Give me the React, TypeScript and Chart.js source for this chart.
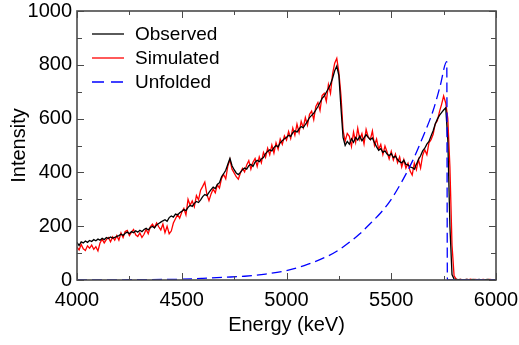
import { useEffect, useRef } from "react";
import { Chart, registerables } from "chart.js";

Chart.register(...registerables);

// Energy axis of the observed / simulated spectra (keV)
const ENERGY_START = 4000;
const ENERGY_STEP = 10;

const observed = [
  140, 128, 142, 138, 145, 140, 147, 143, 150, 146,
  152, 148, 155, 150, 158, 154, 160, 156, 158, 162,
  165, 170, 166, 174, 178, 172, 180, 176, 183, 178,
  185, 180, 188, 192, 186, 195, 199, 194, 205, 210,
  215, 220, 224, 218, 232, 238, 234, 245, 242, 250,
  255, 262, 258, 270, 278, 274, 285, 292, 288, 298,
  310, 318, 314, 326, 336, 345, 340, 355, 362, 384,
  395, 408, 430, 452, 425, 410, 398, 392, 400, 410,
  416, 412, 425, 430, 422, 438, 445, 440, 450, 455,
  470, 478, 484, 480, 492, 500, 495, 510, 518, 525,
  530, 538, 534, 548, 555, 550, 562, 570, 566, 578,
  590, 604, 612, 620, 632, 645, 660, 675, 684, 698,
  712, 728, 750, 778, 795, 760, 640, 530, 500, 515,
  505, 525, 512, 530, 520, 535, 518, 528, 540, 530,
  522, 528, 510, 495, 482, 488, 475, 480, 468, 462,
  470, 455, 460, 448, 440, 435, 445, 430, 428, 420,
  418, 412, 430, 448, 462, 480, 490, 505, 515, 535,
  555, 580, 598, 612, 622, 632, 640, 520, 200, 20,
  3, 2, 1, 2, 0, 1, 2, 1, 0, 2,
  1, 1, 2, 0, 1, 1, 2, 1, 0, 1,
  1,
];

const simulated = [
  122, 112, 132, 116, 110, 127, 118, 130, 114, 124,
  108, 138, 152, 138, 150, 158, 142, 160, 148, 165,
  148, 175, 158, 180, 184, 165, 178, 188, 168, 162,
  175, 158, 170, 188, 172, 198, 208, 195, 212, 198,
  186, 208, 176, 200, 172, 182, 212, 228, 243, 230,
  252, 266, 242, 300, 278, 294, 272, 314, 298, 334,
  348, 364, 318, 295, 320, 338, 324, 354, 342, 378,
  392, 376, 424, 448, 412, 398, 384, 375, 398, 415,
  402, 428, 444, 412, 438, 452, 422, 458, 436, 474,
  456, 490, 466, 502, 472, 510, 486, 524, 504, 536,
  520, 552, 526, 565, 538, 580, 548, 590, 566, 604,
  576, 616, 628, 596, 645, 660, 630, 686, 694, 664,
  726, 694, 766, 806, 824, 772, 686, 556, 516, 545,
  534, 496, 550, 512, 564, 522, 544, 506, 560, 532,
  522, 554, 500, 524, 486, 504, 466, 498, 476, 450,
  478, 446, 468, 436, 458, 420, 448, 416, 434, 405,
  390, 434, 410, 448, 416, 464, 484, 466, 510, 522,
  542, 580, 592, 625, 652, 684, 658, 600, 420, 130,
  15, 3, 0, 2, 1, 0, 2, 1, 3, 0,
  2, 1, 0, 1, 2, 0, 1, 2, 1, 0,
  1,
];

const unfoldedEnergy = [
  4000, 4250, 4500, 4600, 4700, 4800, 4900, 5000, 5100, 5200, 5250, 5300,
  5350, 5400, 5450, 5500, 5550, 5600, 5650, 5700, 5733, 5765, 5768, 6000,
];
const unfoldedIntensity = [
  0, 1, 3, 6, 10, 14, 22, 35, 58, 90, 112, 140,
  172, 210, 250, 300, 365, 440, 530, 630, 720, 812, 0, 0,
];

const xMajorTicks = [4000, 4500, 5000, 5500, 6000];
const xMinorTicks = [4250, 4750, 5250, 5750];
const yMajorTicks = [0, 200, 400, 600, 800, 1000];
const yMinorTicks = [100, 300, 500, 700, 900];

const seriesLabels = ["Observed", "Simulated", "Unfolded"];
const seriesColors = ["#000000", "#ff0000", "#0000ff"];

const FONT = "'Liberation Sans', Arial, Helvetica, sans-serif";

const toPoints = (vals: number[]) =>
  vals.map((v, i) => ({ x: ENERGY_START + i * ENERGY_STEP, y: v }));

const framePlugin = {
  id: "frameTicksLegend",
  afterDraw(chart: any) {
    const { ctx, chartArea, scales } = chart;
    const { left, right, top, bottom } = chartArea;
    const x = scales.x;
    const y = scales.y;
    ctx.save();
    ctx.strokeStyle = "#4a4a4a";
    ctx.lineWidth = 1;
    const tick = (v: number, axis: "x" | "y", len: number) => {
      if (axis === "x") {
        const px = Math.round(x.getPixelForValue(v)) + 0.5;
        ctx.beginPath();
        ctx.moveTo(px, bottom);
        ctx.lineTo(px, bottom - len);
        ctx.moveTo(px, top);
        ctx.lineTo(px, top + len);
        ctx.stroke();
      } else {
        const py = Math.round(y.getPixelForValue(v)) + 0.5;
        ctx.beginPath();
        ctx.moveTo(left, py);
        ctx.lineTo(left + len, py);
        ctx.moveTo(right, py);
        ctx.lineTo(right - len, py);
        ctx.stroke();
      }
    };
    xMajorTicks.forEach((v) => tick(v, "x", 7));
    xMinorTicks.forEach((v) => tick(v, "x", 4));
    yMajorTicks.forEach((v) => tick(v, "y", 7));
    yMinorTicks.forEach((v) => tick(v, "y", 5));
    ctx.lineWidth = 1.6;
    ctx.strokeRect(left, top, right - left, bottom - top);

    // legend
    const rowsY = [34, 58, 82];
    ctx.font = `19px ${FONT}`;
    ctx.textBaseline = "middle";
    ctx.textAlign = "left";
    seriesLabels.forEach((lab, i) => {
      ctx.strokeStyle = seriesColors[i];
      ctx.lineWidth = 1.3;
      ctx.setLineDash(i === 2 ? [12, 7] : []);
      ctx.beginPath();
      ctx.moveTo(92, rowsY[i]);
      ctx.lineTo(124, rowsY[i]);
      ctx.stroke();
      ctx.setLineDash([]);
      ctx.fillStyle = "#000";
      ctx.fillText(lab, 135, rowsY[i] + 1);
    });
    ctx.restore();
  },
};

export default function App() {
  const ref = useRef<HTMLCanvasElement | null>(null);
  useEffect(() => {
    if (!ref.current) return;
    const chart = new Chart(ref.current, {
      type: "line",
      data: {
        datasets: [
          {
            label: seriesLabels[0],
            data: toPoints(observed),
            borderColor: seriesColors[0],
            borderWidth: 1.3,
            pointRadius: 0,
            order: 1,
          },
          {
            label: seriesLabels[1],
            data: toPoints(simulated),
            borderColor: seriesColors[1],
            borderWidth: 1.3,
            pointRadius: 0,
            order: 2,
          },
          {
            label: seriesLabels[2],
            data: unfoldedEnergy.map((e, i) => ({ x: e, y: unfoldedIntensity[i] })),
            borderColor: seriesColors[2],
            borderWidth: 1.3,
            borderDash: [10, 5],
            pointRadius: 0,
            cubicInterpolationMode: "monotone",
            order: 0,
          },
        ],
      },
      options: {
        animation: false,
        responsive: false,
        maintainAspectRatio: false,
        layout: { padding: { left: 0, right: 23, top: 11, bottom: 0 } },
        plugins: { legend: { display: false }, tooltip: { enabled: false } },
        scales: {
          x: {
            type: "linear",
            min: 4000,
            max: 6000,
            afterFit: (s: any) => {
              s.height = 65;
              s.paddingLeft = 0;
              s.paddingRight = 0;
            },
            afterBuildTicks: (s: any) => {
              s.ticks = xMajorTicks.map((v) => ({ value: v }));
            },
            grid: { display: false, drawTicks: false },
            border: { display: false },
            ticks: {
              padding: 8,
              color: "#000",
              font: { family: FONT, size: 20 },
              maxRotation: 0,
              callback: (v: any) => String(v),
            },
            title: {
              display: true,
              text: "Energy (keV)",
              color: "#000",
              font: { family: FONT, size: 20 },
              padding: { top: 0, bottom: 8 },
            },
          },
          y: {
            min: 0,
            max: 1000,
            afterFit: (s: any) => {
              s.width = 77;
              s.paddingTop = 0;
              s.paddingBottom = 0;
            },
            afterBuildTicks: (s: any) => {
              s.ticks = yMajorTicks.map((v) => ({ value: v }));
            },
            grid: { display: false, drawTicks: false },
            border: { display: false },
            ticks: {
              padding: 5,
              color: "#000",
              font: { family: FONT, size: 20 },
              callback: (v: any) => String(v),
            },
            title: {
              display: true,
              text: "Intensity",
              color: "#000",
              font: { family: FONT, size: 20 },
              padding: { top: 7, bottom: 0 },
            },
          },
        },
      },
      plugins: [framePlugin],
    } as any);
    return () => chart.destroy();
  }, []);
  return (
    <div style={{ position: "fixed", left: 0, top: 0, width: 519, height: 345, background: "#fff" }}>
      <canvas ref={ref} width={519} height={345} style={{ width: 519, height: 345, display: "block" }} />
    </div>
  );
}
